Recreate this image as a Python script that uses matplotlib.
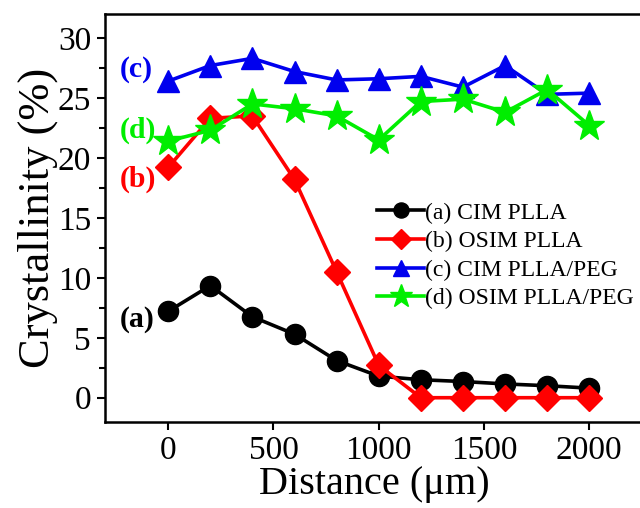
import matplotlib
matplotlib.use("Agg")
import matplotlib.pyplot as plt
from matplotlib.ticker import MultipleLocator

plt.rcParams['font.family'] = ['Liberation Serif', 'DejaVu Serif']
plt.rcParams['mathtext.fontset'] = 'stix'

distance = [0, 200, 400, 600, 800, 1000, 1200, 1400, 1600, 1800, 2000]
cim_plla = [7.2, 9.35, 6.75, 5.3, 3.1, 1.8, 1.5, 1.35, 1.15, 1.0, 0.8]
osim_plla = [19.2, 23.3, 23.5, 18.2, 10.5, 2.7, 0, 0, 0, 0, 0]
cim_peg = [26.4, 27.7, 28.3, 27.2, 26.5, 26.6, 26.8, 25.9, 27.7, 25.3, 25.4]
osim_peg = [21.4, 22.3, 24.5, 24.1, 23.5, 21.5, 24.7, 24.9, 23.8, 25.7, 22.7]

labels = ['(a) CIM PLLA', '(b) OSIM PLLA', '(c) CIM PLLA/PEG', '(d) OSIM PLLA/PEG']
colors = ['black', '#ff0000', '#0000ee', '#00ee00']

fig = plt.figure(figsize=(6.4, 5.08), dpi=100)
ax = fig.add_axes([105/640, (508-421.7)/508, (643-105)/640, (421.7-14)/508])

lw = 2.6
ax.plot(distance, cim_plla, '-o', color=colors[0], lw=lw, ms=14.5, label=labels[0], zorder=3)
ax.plot(distance, osim_plla, '-D', color=colors[1], lw=lw, ms=13.5, label=labels[1], zorder=3)
ax.plot(distance, cim_peg, '-^', color=colors[2], lw=lw, ms=16, label=labels[2], zorder=3)
ax.plot(distance, osim_peg, '-*', color=colors[3], lw=lw, ms=23, label=labels[3], zorder=3)

ax.set_xlim(-300, 2255)
ax.set_ylim(-2, 32)
ax.xaxis.set_major_locator(MultipleLocator(500))
ax.yaxis.set_major_locator(MultipleLocator(5))
ax.yaxis.set_minor_locator(MultipleLocator(2.5))
ax.tick_params(axis='both', which='major', direction='out', length=6, width=1.5, labelsize=24, pad=4)
ax.tick_params(axis='y', which='minor', direction='out', length=4, width=1.5)
ax.tick_params(top=False, right=False)
for s in ax.spines.values():
    s.set_linewidth(1.8)

ax.set_xlabel('Distance (\u03bcm)', fontsize=29, labelpad=0)
ax.set_ylabel('Crystallinity (%)', fontsize=32, labelpad=0)

ax.text(-232, 27.4, '(c)', color=colors[2], fontsize=21.5, fontweight='bold', ha='left', va='center')
ax.text(-232, 22.3, '(d)', color=colors[3], fontsize=21.5, fontweight='bold', ha='left', va='center')
ax.text(-232, 18.2, '(b)', color=colors[1], fontsize=21.5, fontweight='bold', ha='left', va='center')
ax.text(-232, 6.5, '(a)', color=colors[0], fontsize=21.5, fontweight='bold', ha='left', va='center')

leg = ax.legend(loc='upper left', bbox_to_anchor=(0.488, 0.562), frameon=False, fontsize=17,
                handlelength=2.0, handletextpad=0.05, labelspacing=0.3, borderaxespad=0,
                markerscale=0.75)

fig.savefig('out.png', dpi=100)
